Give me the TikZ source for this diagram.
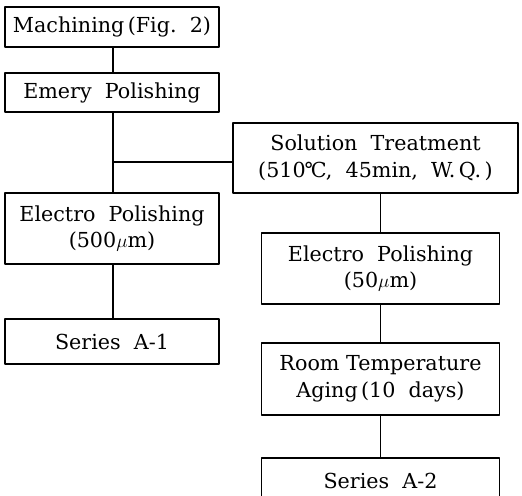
\documentclass[tikz,border=0pt]{standalone}
\usepackage{fontspec}
\setmainfont{DejaVu Serif}
\usepackage{tikz}
\tikzset{
	stage/.style={draw,line width=.8pt,align=center,inner sep=0pt,
		font=\fontsize{15.5}{20}\selectfont},
	link/.style={line width=.8pt}
}
\begin{document}
\begin{tikzpicture}[x=.75pt,y=-.75pt,line join=round]
		\def\wl{214} \def\wr{238}
		\useasboundingbox (0,0) rectangle (522,496);
		\clip (0,0) rectangle (522,496);
		% left column
		\node[stage,minimum width=\wl*.75pt,minimum height=40*.75pt] (mach) at (112,27) {Machining\,(Fig.~~2)};
		\node[stage,minimum width=\wl*.75pt,minimum height=39*.75pt] (emery) at (112,92.5) {Emery~~Polishing};
		\node[stage,minimum width=\wl*.75pt,minimum height=71*.75pt] (elecL) at (112,228.5) {Electro~~Polishing\\(500$\mu$m)};
		\node[stage,minimum width=\wl*.75pt,minimum height=45*.75pt] (serA) at (112,341.5) {Series~~A-1};
		% right column
		\node[stage,minimum width=285*.75pt,minimum height=70*.75pt] (solu) at (375.5,158) {Solution~~Treatment\\(510\kern-.1em\textdegree\kern-.15em C,~~45min,~~W.\,Q.\,)};
		\node[stage,minimum width=\wr*.75pt,minimum height=71*.75pt] (elecR) at (380.5,268.5) {Electro~~Polishing\\(50$\mu$m)};
		\node[stage,minimum width=\wr*.75pt,minimum height=72*.75pt] (room) at (380.5,379) {Room~Temperature\\Aging\,(10~~days)};
		\node[stage,minimum width=\wr*.75pt,minimum height=46*.75pt] (serB) at (380.5,481) {Series~~A-2};
		% connectors
		\coordinate (br) at (113,162);
		\draw[link] (mach.south-|br)--(emery.north-|br);
		\draw[link] (emery.south-|br)--(elecL.north-|br);
		\draw[link] (br)--(br-|solu.west);
		\draw[link] (elecL.south-|br)--(serA.north-|br);
		\draw[link] (elecR.north)--(elecR.north|-solu.south);
		\draw[link] (elecR.south)--(room.north);
		\draw[link] (room.south)--(serB.north);
		\end{tikzpicture}
\end{document}
